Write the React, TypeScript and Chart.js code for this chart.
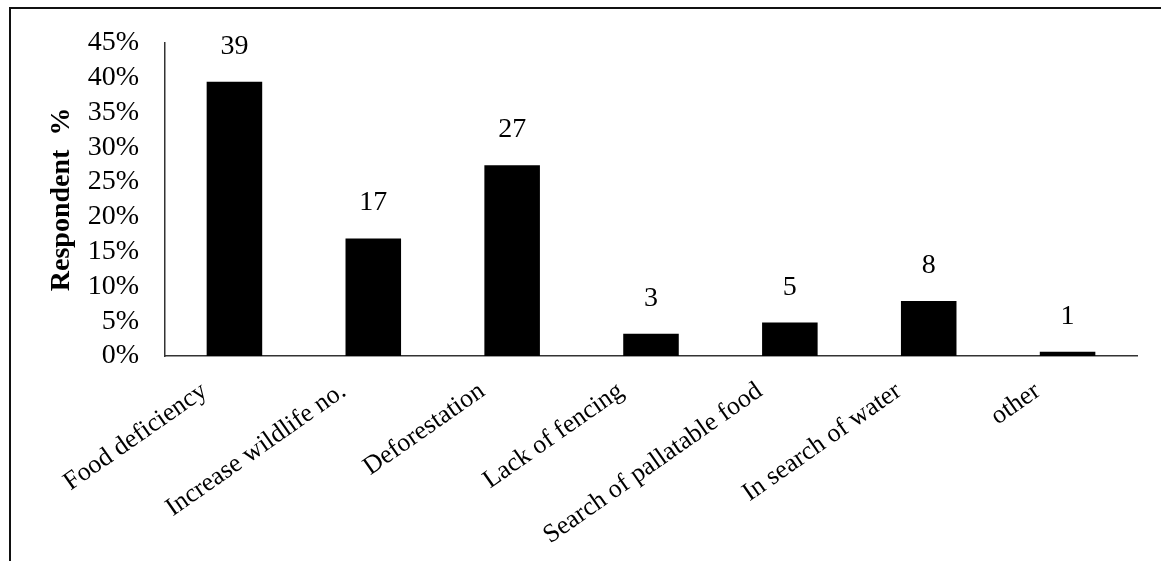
import React, { useEffect, useRef } from "react";
import { Chart, registerables } from "chart.js";

Chart.register(...registerables);

// Reasons given by respondents (share of respondents, %)
const categories = [
  "Food deficiency",
  "Increase wildlife no.",
  "Deforestation",
  "Lack of fencing",
  "Search of pallatable food",
  "In search of water",
  "other",
];
const respondentShare = [39.4, 16.9, 27.4, 3.2, 4.8, 7.9, 0.6];
const yTickValues = [0, 5, 10, 15, 20, 25, 30, 35, 40, 45];

const FONT = "'Liberation Serif', 'Times New Roman', serif";
const FONT_SIZE = 28;
const CATEGORY_FONT_SIZE = 26;

// Thin frame along the top and left edges of the figure
const framePlugin = {
  id: "frame",
  beforeDraw(chart: any) {
    const ctx = chart.ctx;
    ctx.save();
    ctx.fillStyle = "#fff";
    ctx.fillRect(0, 0, chart.width, chart.height);
    ctx.strokeStyle = "#111";
    ctx.lineWidth = 2;
    ctx.beginPath();
    ctx.moveTo(10, chart.height);
    ctx.lineTo(10, 8);
    ctx.lineTo(chart.width, 8);
    ctx.stroke();
    ctx.restore();
  },
};

// Rounded value printed above each bar
const valueLabelPlugin = {
  id: "valueLabels",
  afterDatasetsDraw(chart: any) {
    const ctx = chart.ctx;
    const meta = chart.getDatasetMeta(0);
    const values = chart.data.datasets[0].data as number[];
    ctx.save();
    ctx.fillStyle = "#000";
    ctx.font = `${FONT_SIZE}px ${FONT}`;
    ctx.textAlign = "center";
    ctx.textBaseline = "alphabetic";
    meta.data.forEach((bar: any, i: number) => {
      ctx.fillText(String(Math.round(values[i])), bar.x, bar.y - 28);
    });
    ctx.restore();
  },
};

export default function App() {
  const canvasRef = useRef<HTMLCanvasElement | null>(null);

  useEffect(() => {
    if (!canvasRef.current) return;
    const chart = new Chart(canvasRef.current, {
      type: "bar",
      data: {
        labels: categories,
        datasets: [
          {
            data: respondentShare,
            backgroundColor: "#000",
            borderWidth: 0,
            barPercentage: 0.4,
            categoryPercentage: 1,
          },
        ],
      },
      options: {
        responsive: false,
        animation: false,
        layout: { padding: { top: 39, right: 24, left: 0, bottom: 0 } },
        plugins: {
          legend: { display: false },
          tooltip: { enabled: false },
        },
        scales: {
          x: {
            grid: { display: false, drawTicks: false },
            border: { display: true, color: "#333", width: 1.5 },
            ticks: {
              color: "#000",
              font: { family: FONT, size: CATEGORY_FONT_SIZE },
              autoSkip: false,
              minRotation: 35,
              maxRotation: 35,
              padding: 20,
              labelOffset: -30,
            },
            afterFit: (scale: any) => {
              scale.height = 205;
            },
          },
          y: {
            min: 0,
            max: 45,
            grid: { display: false, drawTicks: false },
            border: { display: true, color: "#333", width: 1.5 },
            afterBuildTicks: (scale: any) => {
              scale.ticks = yTickValues.map((v) => ({ value: v }));
            },
            ticks: {
              color: "#000",
              font: { family: FONT, size: FONT_SIZE },
              padding: 26,
              autoSkip: false,
              callback: (v: any) => `${v}%`,
            },
            title: {
              display: true,
              text: "Respondent  %",
              color: "#000",
              font: { family: FONT, size: FONT_SIZE, weight: "bold" },
              padding: { top: 45, bottom: 0 },
            },
            afterFit: (scale: any) => {
              scale.width = 165;
            },
          },
        },
      },
      plugins: [framePlugin, valueLabelPlugin],
    });
    return () => chart.destroy();
  }, []);

  return (
    <div style={{ position: "absolute", left: 0, top: 0, width: 1161, height: 561 }}>
      <canvas ref={canvasRef} width={1161} height={561} style={{ display: "block" }} />
    </div>
  );
}
